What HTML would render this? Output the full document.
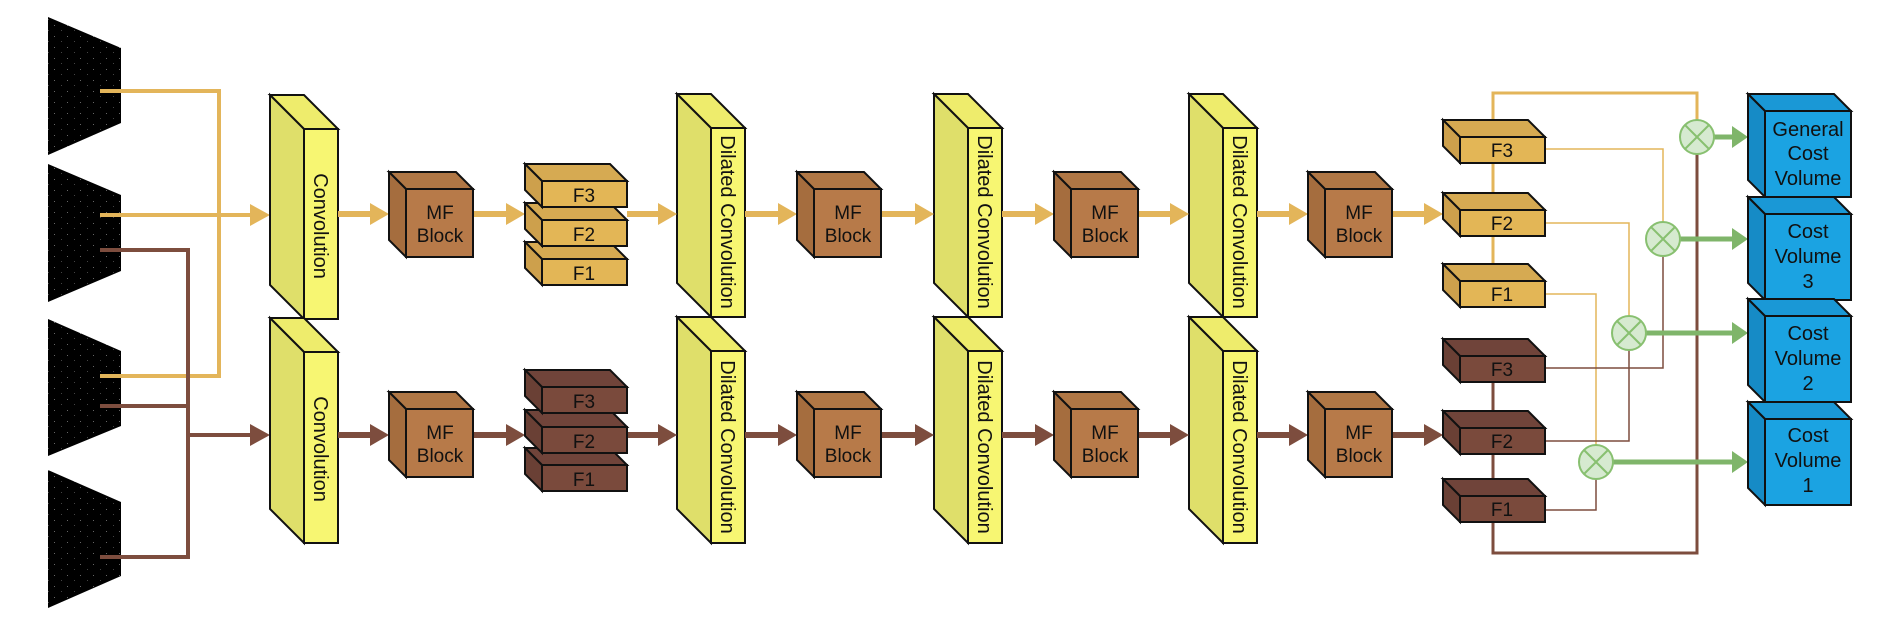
<!DOCTYPE html>
<html><head><meta charset="utf-8"><style>
html,body{margin:0;padding:0;background:#fff;}
svg{display:block;}
text{font-family:"Liberation Sans",sans-serif;fill:#111;}
</style></head><body>
<svg width="1903" height="617" viewBox="0 0 1903 617" xmlns="http://www.w3.org/2000/svg">
<defs>
<pattern id="spk" width="13" height="11" patternUnits="userSpaceOnUse">
<rect width="13" height="11" fill="#000"/>
<rect x="2" y="3" width="1" height="1" fill="#666"/>
<rect x="9" y="8" width="1" height="1" fill="#444"/>
</pattern>
</defs>
<polygon points="48,17 121,48 121,123 48,155" fill="url(#spk)"/>
<polygon points="48,164 121,195 121,271 48,302" fill="url(#spk)"/>
<polygon points="48,319 121,351 121,426 48,456" fill="url(#spk)"/>
<polygon points="48,470 121,502 121,576 48,608" fill="url(#spk)"/>

<g fill="none" stroke-width="4">
<polyline points="100,91 219,91 219,376 100,376" stroke="#e3b55a"/>
<line x1="100" y1="215" x2="254" y2="215" stroke="#e3b55a"/>
<polyline points="100,250 188,250 188,557 100,557" stroke="#7d4d3e"/>
<line x1="100" y1="406" x2="188" y2="406" stroke="#7d4d3e"/>
<line x1="188" y1="435" x2="254" y2="435" stroke="#7d4d3e"/>
</g>
<polygon points="250,204 270,215 250,226" fill="#e3b55a"/>
<polygon points="250,424 270,435 250,446" fill="#7d4d3e"/>

<g stroke="#111" stroke-width="2" stroke-linejoin="miter">
<polygon points="270,95 304,95 338,129 304,129" fill="#eeec6c"/>
<polygon points="270,95 304,129 304,319 270,285" fill="#dfdf6a"/>
<rect x="304" y="129" width="34" height="190" fill="#f7f672"/>
<polygon points="270,318 304,318 338,352 304,352" fill="#eeec6c"/>
<polygon points="270,318 304,352 304,543 270,509" fill="#dfdf6a"/>
<rect x="304" y="352" width="34" height="191" fill="#f7f672"/>

<polygon points="677,94 711,94 745,128 711,128" fill="#eeec6c"/>
<polygon points="677,94 711,128 711,317 677,283" fill="#dfdf6a"/>
<rect x="711" y="128" width="34" height="189" fill="#f7f672"/>
<polygon points="677,317 711,317 745,351 711,351" fill="#eeec6c"/>
<polygon points="677,317 711,351 711,543 677,509" fill="#dfdf6a"/>
<rect x="711" y="351" width="34" height="192" fill="#f7f672"/>

<polygon points="934,94 968,94 1002,128 968,128" fill="#eeec6c"/>
<polygon points="934,94 968,128 968,317 934,283" fill="#dfdf6a"/>
<rect x="968" y="128" width="34" height="189" fill="#f7f672"/>
<polygon points="934,317 968,317 1002,351 968,351" fill="#eeec6c"/>
<polygon points="934,317 968,351 968,543 934,509" fill="#dfdf6a"/>
<rect x="968" y="351" width="34" height="192" fill="#f7f672"/>

<polygon points="1189,94 1223,94 1257,128 1223,128" fill="#eeec6c"/>
<polygon points="1189,94 1223,128 1223,317 1189,283" fill="#dfdf6a"/>
<rect x="1223" y="128" width="34" height="189" fill="#f7f672"/>
<polygon points="1189,317 1223,317 1257,351 1223,351" fill="#eeec6c"/>
<polygon points="1189,317 1223,351 1223,543 1189,509" fill="#dfdf6a"/>
<rect x="1223" y="351" width="34" height="192" fill="#f7f672"/>
</g>
<g font-size="20">
<text transform="translate(314,226) rotate(90)" text-anchor="middle">Convolution</text>
<text transform="translate(314,449) rotate(90)" text-anchor="middle">Convolution</text>
<text transform="translate(721,222) rotate(90)" text-anchor="middle">Dilated Convolution</text>
<text transform="translate(721,447) rotate(90)" text-anchor="middle">Dilated Convolution</text>
<text transform="translate(978,222) rotate(90)" text-anchor="middle">Dilated Convolution</text>
<text transform="translate(978,447) rotate(90)" text-anchor="middle">Dilated Convolution</text>
<text transform="translate(1233,222) rotate(90)" text-anchor="middle">Dilated Convolution</text>
<text transform="translate(1233,447) rotate(90)" text-anchor="middle">Dilated Convolution</text>
</g>

<g stroke-width="6">
<g stroke="#e3b55a">
<line x1="338" y1="214" x2="372" y2="214"/><line x1="473" y1="214" x2="509" y2="214"/>
<line x1="627" y1="214" x2="660" y2="214"/><line x1="745" y1="214" x2="780" y2="214"/>
<line x1="881" y1="214" x2="917" y2="214"/><line x1="1002" y1="214" x2="1037" y2="214"/>
<line x1="1138" y1="214" x2="1172" y2="214"/><line x1="1257" y1="214" x2="1291" y2="214"/>
<line x1="1392" y1="214" x2="1426" y2="214"/>
</g>
<g stroke="#7d4d3e">
<line x1="338" y1="435" x2="372" y2="435"/><line x1="473" y1="435" x2="509" y2="435"/>
<line x1="627" y1="435" x2="660" y2="435"/><line x1="745" y1="435" x2="780" y2="435"/>
<line x1="881" y1="435" x2="917" y2="435"/><line x1="1002" y1="435" x2="1037" y2="435"/>
<line x1="1138" y1="435" x2="1172" y2="435"/><line x1="1257" y1="435" x2="1291" y2="435"/>
<line x1="1392" y1="435" x2="1426" y2="435"/>
</g>
</g>
<g fill="#e3b55a">
<polygon points="370,203 389,214 370,225"/><polygon points="506,203 525,214 506,225"/>
<polygon points="658,203 677,214 658,225"/><polygon points="778,203 797,214 778,225"/>
<polygon points="915,203 934,214 915,225"/><polygon points="1035,203 1054,214 1035,225"/>
<polygon points="1170,203 1189,214 1170,225"/><polygon points="1289,203 1308,214 1289,225"/>
<polygon points="1424,203 1443,214 1424,225"/>
</g>
<g fill="#7d4d3e">
<polygon points="370,424 389,435 370,446"/><polygon points="506,424 525,435 506,446"/>
<polygon points="658,424 677,435 658,446"/><polygon points="778,424 797,435 778,446"/>
<polygon points="915,424 934,435 915,446"/><polygon points="1035,424 1054,435 1035,446"/>
<polygon points="1170,424 1189,435 1170,446"/><polygon points="1289,424 1308,435 1289,446"/>
<polygon points="1424,424 1443,435 1424,446"/>
</g>

<g stroke="#111" stroke-width="2">
<g id="mf">
<polygon points="389,172 456,172 473,189 406,189" fill="#b07745"/>
<polygon points="389,172 406,189 406,257 389,240" fill="#a56d3e"/>
<rect x="406" y="189" width="67" height="68" fill="#b77a49"/>
</g>
<use href="#mf" x="408" y="0"/><use href="#mf" x="665" y="0"/><use href="#mf" x="919" y="0"/>
<use href="#mf" x="0" y="220"/><use href="#mf" x="408" y="220"/><use href="#mf" x="665" y="220"/><use href="#mf" x="919" y="220"/>
</g>
<g font-size="19" text-anchor="middle">
<text x="440" y="219">MF</text><text x="440" y="242">Block</text>
<text x="848" y="219">MF</text><text x="848" y="242">Block</text>
<text x="1105" y="219">MF</text><text x="1105" y="242">Block</text>
<text x="1359" y="219">MF</text><text x="1359" y="242">Block</text>
<text x="440" y="439">MF</text><text x="440" y="462">Block</text>
<text x="848" y="439">MF</text><text x="848" y="462">Block</text>
<text x="1105" y="439">MF</text><text x="1105" y="462">Block</text>
<text x="1359" y="439">MF</text><text x="1359" y="462">Block</text>
</g>

<g stroke="#111" stroke-width="2">
<g id="fy">
<polygon points="525,0 610,0 627,17 542,17" fill="#d6aa52"/>
<polygon points="525,0 542,17 542,43 525,26" fill="#cda04c"/>
<rect x="542" y="17" width="85" height="26" fill="#e3b656"/>
</g>
<g id="fb">
<polygon points="525,0 610,0 627,17 542,17" fill="#70443a"/>
<polygon points="525,0 542,17 542,43 525,26" fill="#6a4035"/>
<rect x="542" y="17" width="85" height="26" fill="#7a4a3c"/>
</g>
</g>
<g stroke="#111" stroke-width="2">
<use href="#fy" x="0" y="242"/><use href="#fy" x="0" y="203"/><use href="#fy" x="0" y="164"/>
<use href="#fb" x="0" y="448"/><use href="#fb" x="0" y="410"/><use href="#fb" x="0" y="370"/>
</g>
<rect x="520" y="-2" width="112" height="50" fill="#fff"/>
<g font-size="19" text-anchor="middle">
<text x="584" y="202">F3</text><text x="584" y="241">F2</text><text x="584" y="280">F1</text>
<text x="584" y="408">F3</text><text x="584" y="448">F2</text><text x="584" y="486">F1</text>
</g>

<g fill="none">
<polyline points="1493,120 1493,93 1697,93 1697,120" stroke="#e3b55a" stroke-width="3"/>
<line x1="1493" y1="163" x2="1493" y2="193" stroke="#e3b55a" stroke-width="3"/>
<line x1="1493" y1="237" x2="1493" y2="264" stroke="#e3b55a" stroke-width="3"/>
<line x1="1493" y1="382" x2="1493" y2="411" stroke="#7d4d3e" stroke-width="3"/>
<line x1="1493" y1="455" x2="1493" y2="479" stroke="#7d4d3e" stroke-width="3"/>
<polyline points="1493,523 1493,553 1697,553 1697,154" stroke="#7d4d3e" stroke-width="3"/>
<polyline points="1545,149 1663,149 1663,222" stroke="#e3b55a" stroke-width="1.5"/>
<polyline points="1545,223 1629,223 1629,316" stroke="#e3b55a" stroke-width="1.5"/>
<polyline points="1545,294 1596,294 1596,445" stroke="#e3b55a" stroke-width="1.5"/>
<polyline points="1545,368 1663,368 1663,256" stroke="#7d4d3e" stroke-width="1.5"/>
<polyline points="1545,441 1629,441 1629,350" stroke="#7d4d3e" stroke-width="1.5"/>
<polyline points="1545,510 1596,510 1596,479" stroke="#7d4d3e" stroke-width="1.5"/>
</g>

<g stroke="#111" stroke-width="2">
<g transform="translate(918,120)"><polygon points="525,0 610,0 627,17 542,17" fill="#d6aa52"/><polygon points="525,0 542,17 542,43 525,26" fill="#cda04c"/><rect x="542" y="17" width="85" height="26" fill="#e3b656"/></g>
<g transform="translate(918,193)"><polygon points="525,0 610,0 627,17 542,17" fill="#d6aa52"/><polygon points="525,0 542,17 542,43 525,26" fill="#cda04c"/><rect x="542" y="17" width="85" height="26" fill="#e3b656"/></g>
<g transform="translate(918,264)"><polygon points="525,0 610,0 627,17 542,17" fill="#d6aa52"/><polygon points="525,0 542,17 542,43 525,26" fill="#cda04c"/><rect x="542" y="17" width="85" height="26" fill="#e3b656"/></g>
<g transform="translate(918,339)"><polygon points="525,0 610,0 627,17 542,17" fill="#70443a"/><polygon points="525,0 542,17 542,43 525,26" fill="#6a4035"/><rect x="542" y="17" width="85" height="26" fill="#7a4a3c"/></g>
<g transform="translate(918,411)"><polygon points="525,0 610,0 627,17 542,17" fill="#70443a"/><polygon points="525,0 542,17 542,43 525,26" fill="#6a4035"/><rect x="542" y="17" width="85" height="26" fill="#7a4a3c"/></g>
<g transform="translate(918,479)"><polygon points="525,0 610,0 627,17 542,17" fill="#70443a"/><polygon points="525,0 542,17 542,43 525,26" fill="#6a4035"/><rect x="542" y="17" width="85" height="26" fill="#7a4a3c"/></g>
</g>
<g font-size="19" text-anchor="middle">
<text x="1502" y="157">F3</text><text x="1502" y="230">F2</text><text x="1502" y="301">F1</text>
<text x="1502" y="376">F3</text><text x="1502" y="448">F2</text><text x="1502" y="516">F1</text>
</g>

<g stroke="#7fb56a" stroke-width="5">
<line x1="1714" y1="137" x2="1734" y2="137"/>
<line x1="1680" y1="239" x2="1734" y2="239"/>
<line x1="1646" y1="333" x2="1734" y2="333"/>
<line x1="1613" y1="462" x2="1734" y2="462"/>
</g>
<g fill="#7fb56a">
<polygon points="1732,126 1748,137 1732,148"/>
<polygon points="1732,228 1748,239 1732,250"/>
<polygon points="1732,322 1748,333 1732,344"/>
<polygon points="1732,451 1748,462 1732,473"/>
</g>
<g fill="#d6ead0" stroke="#88c070" stroke-width="2">
<g id="cx"><circle cx="1697" cy="137" r="17"/><line x1="1685" y1="125" x2="1709" y2="149"/><line x1="1709" y1="125" x2="1685" y2="149"/></g>
<use href="#cx" x="-34" y="102"/><use href="#cx" x="-68" y="196"/><use href="#cx" x="-101" y="325"/>
</g>

<g stroke="#111" stroke-width="2">
<g id="cv">
<polygon points="1748,94 1834,94 1851,111 1765,111" fill="#1a98d6"/>
<polygon points="1748,94 1765,111 1765,197 1748,180" fill="#168bc6"/>
<rect x="1765" y="111" width="86" height="86" fill="#1ba3e2"/>
</g>
<use href="#cv" x="0" y="103"/><use href="#cv" x="0" y="205"/><use href="#cv" x="0" y="308"/>
</g>
<g font-size="20" text-anchor="middle">
<text x="1808" y="136">General</text><text x="1808" y="160">Cost</text><text x="1808" y="185">Volume</text>
<text x="1808" y="238">Cost</text><text x="1808" y="263">Volume</text><text x="1808" y="288">3</text>
<text x="1808" y="340">Cost</text><text x="1808" y="365">Volume</text><text x="1808" y="390">2</text>
<text x="1808" y="442">Cost</text><text x="1808" y="467">Volume</text><text x="1808" y="492">1</text>
</g>
</svg>
</body></html>
